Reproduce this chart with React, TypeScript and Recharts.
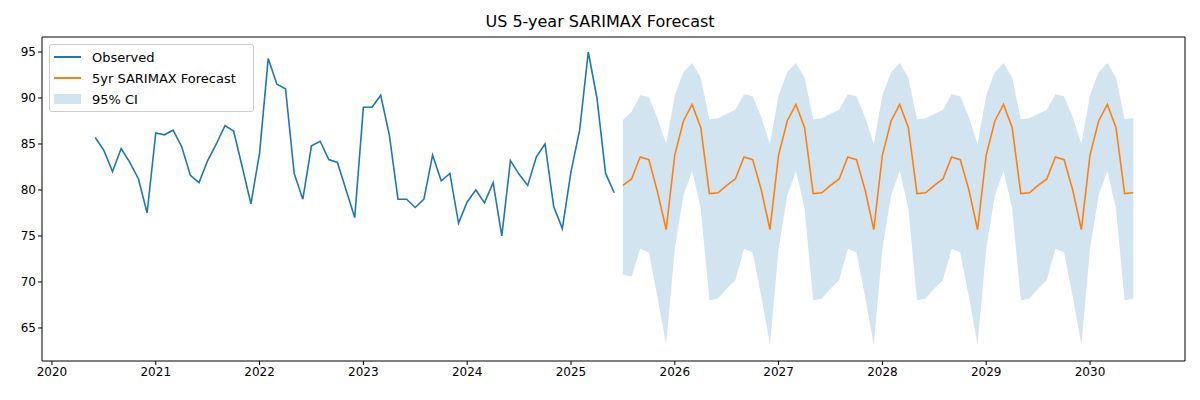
import React from "react";
import { ComposedChart, Line, Area, XAxis, YAxis } from "recharts";

const observed = [85.7, 84.3, 82.0, 84.5, 83.0, 81.2, 77.5,
  86.2, 86.0, 86.5, 84.7, 81.6, 80.8, 83.2, 85.0, 87.0, 86.4, 82.5, 78.5,
  84.0, 94.3, 91.5, 91.0, 81.8, 79.0, 84.8, 85.3, 83.3, 83.0, 80.0, 77.0,
  89.0, 89.0, 90.3, 86.0, 79.0, 79.0, 78.1, 79.0, 83.8, 81.0, 81.8, 76.4,
  78.7, 80.0, 78.6, 80.8, 75.0, 83.2, 81.7, 80.5, 83.6, 85.0, 78.2, 75.8,
  82.0, 86.5, 95.0, 90.0, 81.8, 79.7];
const obsStart = 2020 + 5 / 12;

const forecastYear1 = [80.5, 81.2, 83.6, 83.3, 79.8, 75.7, 83.8, 87.5, 89.3, 86.8, 79.6, 79.7];
const forecastCycle = [80.5, 81.2, 83.6, 83.3, 80.0, 75.7, 83.8, 87.5, 89.3, 86.8, 79.6, 79.7];
const upperYear1 = [87.6, 88.5, 90.3, 90.1, 87.8, 85.0, 90.3, 92.8, 93.8, 92.2, 87.7, 87.8];
const upperCycle = [88.3, 88.7, 90.4, 90.2, 87.9, 85.0, 90.3, 92.8, 93.8, 92.2, 87.7, 87.8];
const lowerYear1 = [70.8, 70.6, 73.6, 73.2, 68.3, 63.2, 73.6, 79.4, 82.1, 78.0, 68.0, 68.2];
const lowerCycle = [69.3, 70.2, 73.6, 73.2, 68.4, 63.2, 73.6, 79.4, 82.1, 78.0, 68.0, 68.2];
const fcStart = 2025 + 6 / 12;
const xTicks = [2020, 2021, 2022, 2023, 2024, 2025, 2026, 2027, 2028, 2029, 2030];
const yTicks = [65, 70, 75, 80, 85, 90, 95];

const data: any[] = [];
observed.forEach((v, i) => data.push({ x: obsStart + i / 12, obs: v }));
for (let i = 0; i < 60; i++) {
  const k = i % 12;
  const y1 = i < 12;
  const f = y1 ? forecastYear1[k] : forecastCycle[k];
  const u = y1 ? upperYear1[k] : upperCycle[k];
  const l = y1 ? lowerYear1[k] : lowerCycle[k];
  data.push({ x: fcStart + i / 12, fc: f, band: [l, u] });
}

const font = "DejaVu Sans, sans-serif";

export default function App() {
  return (
    <div style={{ position: "absolute", left: 0, top: 0, width: 1200, height: 400, background: "#fff", fontFamily: font }}>
      <div style={{ position: "absolute", top: 12, width: 1200, textAlign: "center", fontSize: 16 }}>US 5-year SARIMAX Forecast</div>
      <ComposedChart width={1200} height={400} data={data} margin={{ top: 37, right: 15, bottom: 0, left: 0 }}>
        <XAxis dataKey="x" type="number" domain={[2019.904, 2030.915]} ticks={xTicks} allowDataOverflow
          height={39} tick={{ fill: "#000", fontSize: 12, fontFamily: font }} tickLine={{ stroke: "#000" }} axisLine={{ stroke: "#000" }} tickSize={4} interval={0} />
        <YAxis type="number" domain={[61.41, 96.63]} ticks={yTicks} allowDataOverflow width={42}
          tick={{ fill: "#000", fontSize: 12, fontFamily: font }} tickLine={{ stroke: "#000" }} axisLine={{ stroke: "#000" }} tickSize={4} />
        <Area dataKey="band" stroke="none" fill="#1f77b4" fillOpacity={0.2} isAnimationActive={false} connectNulls={false} />
        <Line dataKey="obs" stroke="#1f77b4" strokeWidth={1.6} dot={false} isAnimationActive={false} />
        <Line dataKey="fc" stroke="#ff7f0e" strokeWidth={1.6} dot={false} isAnimationActive={false} />
        <line x1={1185} y1={37} x2={1185} y2={361} stroke="#000" />
        <line x1={42} y1={37} x2={1185} y2={37} stroke="#000" />
      </ComposedChart>
      <div style={{ position: "absolute", left: 49, top: 44, width: 203, height: 66, border: "1px solid #ccc", borderRadius: 3, background: "rgba(255,255,255,0.8)", fontSize: 13 }}>
        {[
          ["Observed", "line", "#1f77b4"],
          ["5yr SARIMAX Forecast", "line", "#ff7f0e"],
          ["95% CI", "box", "rgba(31,119,180,0.2)"],
        ].map(([t, k, c], i) => (
          <div key={i} style={{ position: "absolute", left: 4, top: 3 + i * 21, height: 18, display: "flex", alignItems: "center" }}>
            {k === "line" ? <div style={{ width: 27, height: 2, background: c }} /> : <div style={{ width: 27, height: 10, background: c }} />}
            <span style={{ marginLeft: 11 }}>{t}</span>
          </div>
        ))}
      </div>
    </div>
  );
}
